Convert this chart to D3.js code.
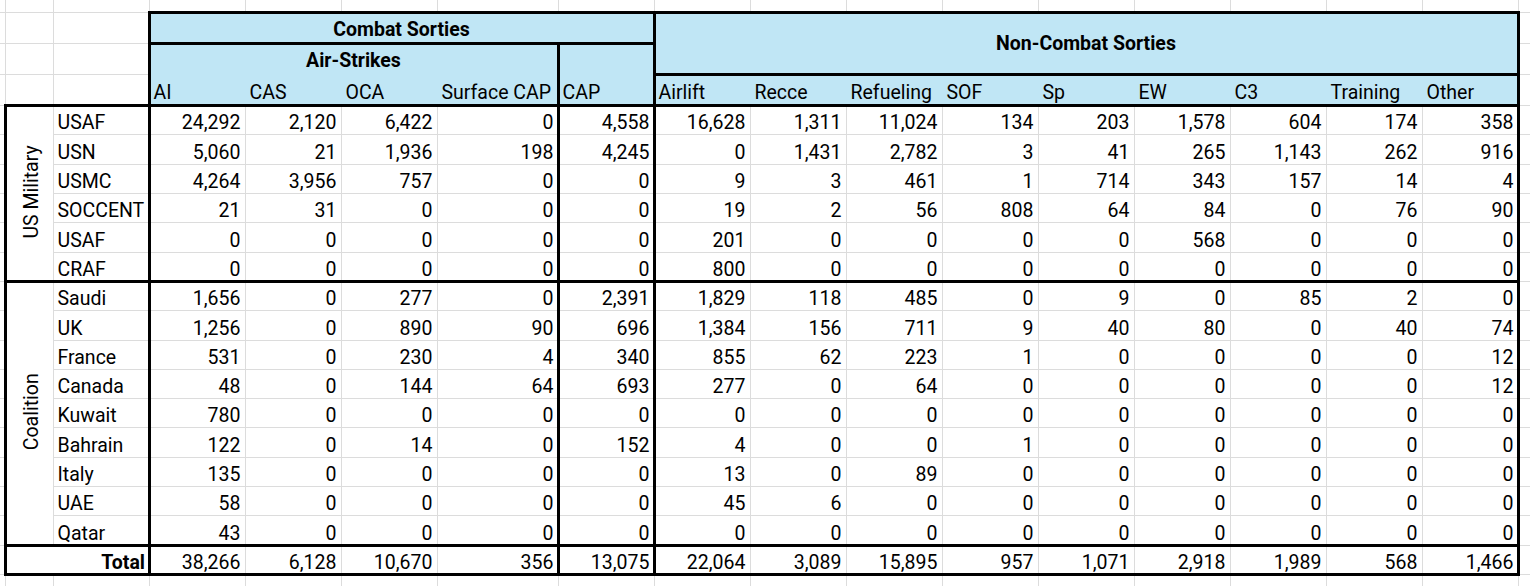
<!DOCTYPE html>
<html>
<head>
<meta charset="utf-8">
<script src="https://cdn.jsdelivr.net/npm/d3@7"></script>
<style>
body { margin: 0; background: #fff; }
svg text { font-family: Roboto, "Liberation Sans", Arial, sans-serif; font-size: 19.5px; fill: #000; }
svg text.bold { font-weight: bold; }
</style>
</head>
<body>
<svg id="sheet" width="1530" height="586"></svg>
<script>
// Sorties by service / country and mission type

var categories = ["AI", "CAS", "OCA", "Surface CAP", "CAP", "Airlift", "Recce", "Refueling",
                  "SOF", "Sp", "EW", "C3", "Training", "Other"];
var groupNames = ["US Military", "Coalition"];
var military = ["USAF", "USN", "USMC", "SOCCENT", "USAF", "CRAF"];
var coalition = ["Saudi", "UK", "France", "Canada", "Kuwait", "Bahrain", "Italy", "UAE", "Qatar"];

var usaf    = [24292, 2120, 6422,   0, 4558, 16628, 1311, 11024, 134, 203, 1578,  604, 174, 358];
var usn     = [ 5060,   21, 1936, 198, 4245,     0, 1431,  2782,   3,  41,  265, 1143, 262, 916];
var usmc    = [ 4264, 3956,  757,   0,    0,     9,    3,   461,   1, 714,  343,  157,  14,   4];
var soccent = [   21,   31,    0,   0,    0,    19,    2,    56, 808,  64,   84,    0,  76,  90];
var usaf2   = [    0,    0,    0,   0,    0,   201,    0,     0,   0,   0,  568,    0,   0,   0];
var craf    = [    0,    0,    0,   0,    0,   800,    0,     0,   0,   0,    0,    0,   0,   0];

var saudi   = [ 1656,    0,  277,   0, 2391,  1829,  118,   485,   0,   9,    0,   85,   2,   0];
var uk      = [ 1256,    0,  890,  90,  696,  1384,  156,   711,   9,  40,   80,    0,  40,  74];
var france  = [  531,    0,  230,   4,  340,   855,   62,   223,   1,   0,    0,    0,   0,  12];
var canada  = [   48,    0,  144,  64,  693,   277,    0,    64,   0,   0,    0,    0,   0,  12];
var kuwait  = [  780,    0,    0,   0,    0,     0,    0,     0,   0,   0,    0,    0,   0,   0];
var bahrain = [  122,    0,   14,   0,  152,     4,    0,     0,   1,   0,    0,    0,   0,   0];
var italy   = [  135,    0,    0,   0,    0,    13,    0,    89,   0,   0,    0,    0,   0,   0];
var uae     = [   58,    0,    0,   0,    0,    45,    6,     0,   0,   0,    0,    0,   0,   0];
var qatar   = [   43,    0,    0,   0,    0,     0,    0,     0,   0,   0,    0,    0,   0,   0];

var totals  = [38266, 6128, 10670, 356, 13075, 22064, 3089, 15895, 957, 1071, 2918, 1989, 568, 1466];

var militaryValues = [usaf, usn, usmc, soccent, usaf2, craf];
var coalitionValues = [saudi, uk, france, canada, kuwait, bahrain, italy, uae, qatar];

// ---- layout
var W = 1530, H = 586;
var fill = "#c0e6f5", grid = "#dcdcdc";
var colW = [48, 96, 96, 96, 96, 121, 96, 96, 96, 96, 96, 96, 96, 96, 96, 96];
var x0 = 5;
var edges = [x0].concat(Array.from(d3.cumsum(colW), function(d) { return x0 + d; }));
var headY = [12, 43, 74, 105];
var format = d3.format(",d");

var rows = [];
military.forEach(function(n, i) { rows.push({ name: n, values: militaryValues[i] }); });
coalition.forEach(function(n, i) { rows.push({ name: n, values: coalitionValues[i] }); });
rows.push({ name: "Total", values: totals, total: true });

var y = d3.scaleBand().domain(d3.range(rows.length)).range([105, 574]);
var bw = y.bandwidth();

var svg = d3.select("#sheet");
svg.append("rect").attr("width", W).attr("height", H).attr("fill", "#fff");

// spreadsheet gridlines
var hLines = headY.concat(d3.range(rows.length + 1).map(function(i) { return 105 + i * bw; }));
svg.append("g").selectAll("line").data(hLines).enter().append("line")
    .attr("x1", 0).attr("x2", W)
    .attr("y1", function(d) { return Math.round(d) + 0.5; })
    .attr("y2", function(d) { return Math.round(d) + 0.5; })
    .attr("stroke", grid);
svg.append("g").selectAll("line").data(edges).enter().append("line")
    .attr("y1", 0).attr("y2", H)
    .attr("x1", function(d) { return d + 0.5; })
    .attr("x2", function(d) { return d + 0.5; })
    .attr("stroke", grid);

// merged cells hide the grid
var gTop = y(0), gMid = y(military.length), gBot = y(rows.length - 1);
svg.append("rect").attr("x", edges[0]).attr("y", gTop).attr("width", edges[1] - edges[0]).attr("height", gMid - gTop).attr("fill", "#fff");
svg.append("rect").attr("x", edges[0]).attr("y", gMid).attr("width", edges[1] - edges[0]).attr("height", gBot - gMid).attr("fill", "#fff");
svg.append("rect").attr("x", edges[0] + 1).attr("y", gBot + 1).attr("width", edges[2] - edges[0] - 1).attr("height", 574 - gBot - 1).attr("fill", "#fff");

// header fill
svg.append("rect").attr("x", edges[2]).attr("y", headY[0])
    .attr("width", edges[16] - edges[2]).attr("height", headY[3] - headY[0]).attr("fill", fill);

// header texts
svg.append("text").attr("class", "bold").attr("text-anchor", "middle")
    .attr("x", (edges[2] + edges[7]) / 2).attr("y", 36).text("Combat Sorties");
svg.append("text").attr("class", "bold").attr("text-anchor", "middle")
    .attr("x", (edges[2] + edges[6]) / 2).attr("y", 66.5).text("Air-Strikes");
svg.append("text").attr("class", "bold").attr("text-anchor", "middle")
    .attr("x", (edges[7] + edges[16]) / 2).attr("y", 50).text("Non-Combat Sorties");

svg.append("g").selectAll("text").data(categories).enter().append("text")
    .attr("x", function(d, i) { return edges[i + 2] + 4.5; })
    .attr("y", 99)
    .text(function(d) { return d; });

// group labels, rotated
[[groupNames[0], gTop, gMid], [groupNames[1], gMid, gBot]].forEach(function(g) {
  svg.append("text").attr("text-anchor", "middle")
      .attr("transform", "translate(37.5," + ((g[1] + g[2]) / 2 - 1) + ") rotate(-90)")
      .text(g[0]);
});

// body
var row = svg.append("g").selectAll("g").data(rows).enter().append("g")
    .attr("transform", function(d, i) { return "translate(0," + (y(i) + bw - 5) + ")"; });

row.append("text")
    .attr("class", function(d) { return d.total ? "bold" : null; })
    .attr("text-anchor", function(d) { return d.total ? "end" : "start"; })
    .attr("x", function(d) { return d.total ? edges[2] - 4 : edges[1] + 4.5; })
    .text(function(d) { return d.name; });

row.selectAll("text.v").data(function(d) { return d.values; }).enter().append("text")
    .attr("class", "v")
    .attr("text-anchor", "end")
    .attr("x", function(d, i) { return edges[i + 3] - 4.5; })
    .text(function(d) { return format(d); });

// thick borders
var B = [
  [edges[2], 12, edges[16], 12],
  [edges[2], 43, edges[7], 43],
  [edges[7], 74, edges[16], 74],
  [edges[0], 105, edges[16], 105],
  [edges[0], gMid, edges[16], gMid],
  [edges[0], gBot, edges[16], gBot],
  [edges[0], 574, edges[16], 574],
  [edges[0], 105, edges[0], 574],
  [edges[2], 12, edges[2], 574],
  [edges[6], 43, edges[6], 574],
  [edges[7], 12, edges[7], 574],
  [edges[16], 12, edges[16], 574]
];
svg.append("g").selectAll("line").data(B).enter().append("line")
    .attr("x1", function(d) { return d[0] + 0.5; })
    .attr("y1", function(d) { return Math.round(d[1]) + 0.5; })
    .attr("x2", function(d) { return d[2] + 0.5; })
    .attr("y2", function(d) { return Math.round(d[3]) + 0.5; })
    .attr("stroke", "#000")
    .attr("stroke-width", 3)
    .attr("stroke-linecap", "square");
</script>
</body>
</html>
